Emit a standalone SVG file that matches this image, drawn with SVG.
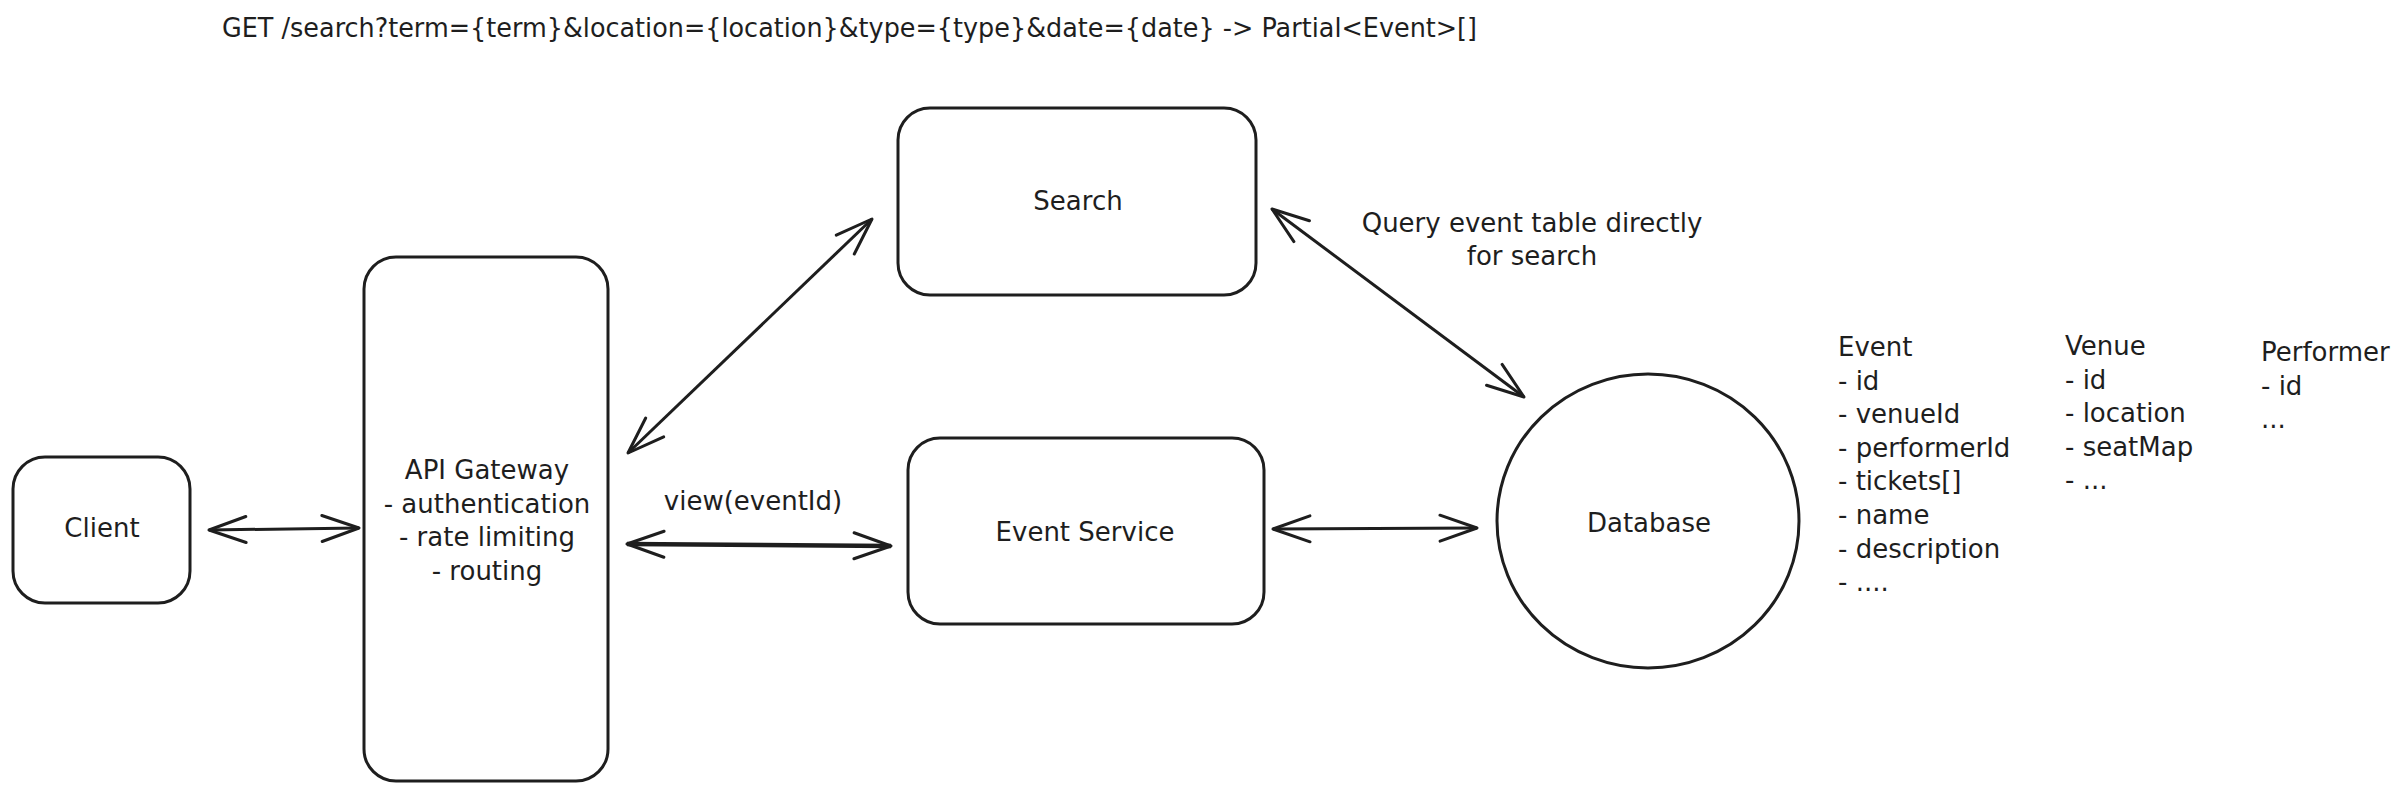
<svg xmlns="http://www.w3.org/2000/svg" width="2400" height="795" viewBox="0 0 2400 795">
<style>
.box{fill:none;stroke:#1e1e1e;stroke-width:3;}
.t{font-family:"DejaVu Sans",sans-serif;font-size:26px;fill:#1e1e1e;}
.c{text-anchor:middle;}
.conn{stroke:#1e1e1e;stroke-width:3;fill:none;marker-start:url(#ah);marker-end:url(#ah);}
</style>
<defs>
<marker id="ah" viewBox="-42 -20 46 40" refX="0" refY="0" markerWidth="46" markerHeight="40" markerUnits="userSpaceOnUse" orient="auto-start-reverse">
<path d="M -37 -13 L 0 0 L -37 13" fill="none" stroke="#1e1e1e" stroke-width="3" stroke-linecap="round" stroke-linejoin="round"/>
</marker>
</defs>
<rect width="2400" height="795" fill="#ffffff"/>
<text class="t" x="222" y="37" font-size="23.5" textLength="1255" lengthAdjust="spacingAndGlyphs">GET /search?term={term}&amp;location={location}&amp;type={type}&amp;date={date} -&gt; Partial&lt;Event&gt;[]</text>
<g id="client">
<rect class="box" x="13" y="457" width="177" height="146" rx="32"/>
<text class="t c" x="102" y="537">Client</text>
</g>
<g id="api-gateway">
<rect class="box" x="364" y="257" width="244" height="524" rx="32"/>
<text class="t c" x="487" y="479">API Gateway<tspan x="487" dy="33.6">- authentication</tspan><tspan x="487" dy="33.6">- rate limiting</tspan><tspan x="487" dy="33.6">- routing</tspan></text>
</g>
<g id="search">
<rect class="box" x="898" y="108" width="358" height="187" rx="32"/>
<text class="t c" x="1078" y="210">Search</text>
</g>
<g id="event-service">
<rect class="box" x="908" y="438" width="356" height="186" rx="32"/>
<text class="t c" x="1085" y="541">Event Service</text>
</g>
<g id="database">
<ellipse class="box" cx="1648" cy="521" rx="151" ry="147"/>
<text class="t c" x="1649" y="532">Database</text>
</g>
<g id="schema">
<text class="t" x="1838" y="356">Event<tspan x="1838" dy="33.6">- id</tspan><tspan x="1838" dy="33.6">- venueId</tspan><tspan x="1838" dy="33.6">- performerId</tspan><tspan x="1838" dy="33.6">- tickets[]</tspan><tspan x="1838" dy="33.6">- name</tspan><tspan x="1838" dy="33.6">- description</tspan><tspan x="1838" dy="33.6">- ....</tspan></text>
<text class="t" x="2065" y="355">Venue<tspan x="2065" dy="33.6">- id</tspan><tspan x="2065" dy="33.6">- location</tspan><tspan x="2065" dy="33.6">- seatMap</tspan><tspan x="2065" dy="33.6">- ...</tspan></text>
<text class="t" x="2261" y="361">Performer<tspan x="2261" dy="33.6">- id</tspan><tspan x="2261" dy="33.6">...</tspan></text>
</g>
<g id="connectors">
<line class="conn" x1="209" y1="530" x2="359" y2="528"/>
<line class="conn" x1="628" y1="453" x2="872" y2="219"/>
<line class="conn" x1="627" y1="544" x2="891" y2="546" style="stroke-width:4.5"/>
<line class="conn" x1="1272" y1="209" x2="1524" y2="397"/>
<line class="conn" x1="1273" y1="529" x2="1477" y2="528"/>
<text class="t c" x="753" y="510">view(eventId)</text>
<text class="t c" x="1532" y="232">Query event table directly<tspan x="1532" dy="33">for search</tspan></text>
</g>
</svg>
